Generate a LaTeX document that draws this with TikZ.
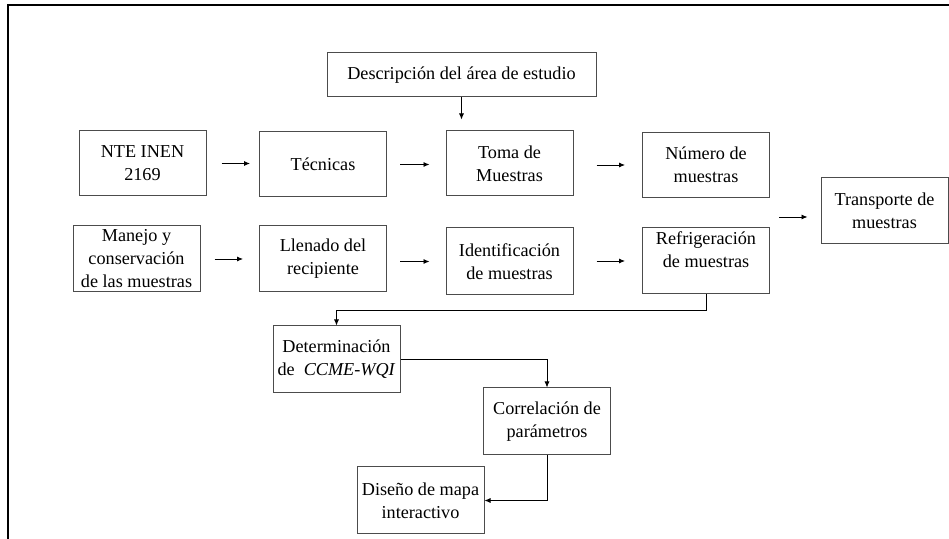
\documentclass[tikz,border=0pt]{standalone}
\usepackage{fontspec}
\setmainfont{Liberation Serif}
\usetikzlibrary{arrows.meta}
\tikzset{
	caja/.style={draw=black!70, line width=.5pt, minimum width=63.5pt, minimum height=32.5pt,
		inner sep=0pt, align=center, font=\fontsize{9.1}{11.5}\selectfont},
	flecha/.style={-{Latex[length=3pt,width=2.6pt]}, line width=.45pt},
}
\begin{document}
\begin{tikzpicture}[x=.5pt, y=-.5pt]
	\useasboundingbox (0, 0) rectangle (949, 539);
	\draw[line width=.6pt](949, 5) -- (8, 5) -- (8, 539);

		\node[caja, minimum width=134.5pt, minimum height=22pt](desc) at(461.5, 75){Descripción del área de estudio};

		\node[caja](nte) at(142.5, 163.5){NTE INEN\\2169};
		\node[caja](tec) at(323, 164.5){Técnicas};
		\node[caja](toma) at(509.5, 163.5){Toma de\\Muestras};
		\node[caja](num) at(706, 165){Número de\\muestras};
		\node[caja, minimum height=33pt](trans) at(884.5, 211){Transporte de\\muestras};

		\node[caja, minimum height=33pt](man) at(136.5, 259){Manejo y\\conservación\\de las muestras};
		\node[caja, minimum height=33pt](llen) at(323, 259){Llenado del\\recipiente};
		\node[caja, minimum height=33.5pt](ident) at(509.5, 261.5){Identificación\\de muestras};
		\node[caja, minimum height=33pt](ref) at(706, 261){Refrigeración\\de muestras\\\mbox{}};

		\node[caja, minimum height=33.5pt](det) at(336.5, 359.5){Determinación\\de\ \ \textit{CCME-WQI}};
		\node[caja, minimum height=33.5pt](corr) at(547, 421.5){Correlación de\\parámetros};
		\node[caja, minimum height=33.5pt](dis) at(420.5, 500.5){Diseño de mapa\\interactivo};

		\coordinate(medio) at(770, 217);

	% flechas cortas
	\draw[flecha, shorten >=5.5pt](desc.south) -- (desc.south |- toma.north);
	\draw[flecha, shorten <=7.5pt, shorten >=4.5pt](nte) -- (nte -| tec.west);
	\draw[flecha, shorten <=6.5pt, shorten >=8pt](tec) -- (tec -| toma.west);
	\draw[flecha, shorten <=11.5pt, shorten >=8.5pt](toma.east |- num) -- (num);
	\draw[flecha, shorten <=7pt, shorten >=8pt](man) -- (man -| llen.west);
	\draw[flecha, shorten <=6.5pt, shorten >=8pt](llen.east |- ident) -- (ident);
	\draw[flecha, shorten <=11.5pt, shorten >=8.5pt](ident.east |- ref) -- (ref);
	\draw[flecha, shorten <=4.5pt, shorten >=6.5pt](medio) -- (medio -| trans.west);

	% conexiones
	\draw[flecha](ref.south) -- ++(0, 16) -| (det.north);
	\draw[flecha](det.east) -| (corr.north);
	\draw[flecha](corr.south) |- (dis.east);
\end{tikzpicture}
\end{document}
